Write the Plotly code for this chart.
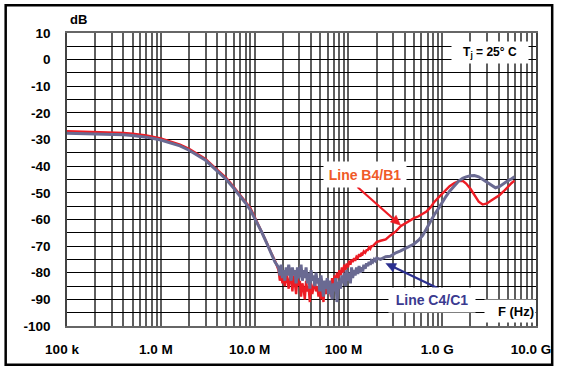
import math
import plotly.graph_objects as go

# ---------------- data ----------------
LOW_F_HZ = [1e5, 1.5e5, 2e5, 3e5, 4e5, 5e5, 7e5, 1e6,
            1.3e6, 1.6e6, 2e6, 2.5e6, 3e6, 3.5e6, 4e6, 5e6,
            6e6, 7e6, 8e6, 9e6, 10e6, 11e6, 12e6, 13.5e6,
            15e6, 16.5e6]
RED_LOW = [-26.9, -27.0, -27.1, -27.3, -27.5, -27.8, -28.5, -29.6,
           -30.8, -31.9, -33.5, -35.5, -37.3, -39.5, -41.3, -44.5,
           -47.8, -50.7, -53.3, -55.7, -59.0, -62.0, -64.5, -68.8,
           -72.5, -75.5]
GRAY_LOW = [-27.6, -27.7, -27.8, -28.0, -28.2, -28.5, -29.1, -30.2,
            -31.3, -32.4, -34.0, -36.0, -37.8, -40.0, -41.8, -45.0,
            -48.3, -51.2, -53.8, -56.4, -59.5, -62.5, -65.0, -69.0,
            -72.5, -76.0]

NOISE_F_MHZ = [18, 18.6, 19.2, 19.8, 20.4, 21, 21.7, 22.4, 23.1, 23.8,
               24.5, 25.3, 26.1, 26.9, 27.7, 28.6, 29.5, 30.4, 31.3, 32.3,
               33.3, 34.3, 35.4, 36.5, 37.6, 38.8, 40, 41.2, 42.5, 43.8,
               45.2, 46.6, 48, 49.5, 51, 52.6, 54.2, 55.9, 57.6, 59.4,
               61.2, 63.1, 65, 67, 69, 71.1, 73.3, 75.5, 77.8, 80.2,
               82.6, 85.1, 87.7, 90.4, 93.2, 96, 99, 102, 105, 108,
               111, 115, 118, 122, 126, 130, 134, 138, 142, 146,
               151, 156, 161, 166, 171, 176, 182, 188, 194, 200]
RED_NOISE = [-79, -83, -80, -84, -81, -85, -80, -83, -86, -81,
             -82, -87, -81, -84, -88, -82, -85, -83, -89, -84,
             -86, -90, -83, -87, -85, -91, -84, -88, -86, -83,
             -87, -85, -89, -84, -90, -86, -91, -85, -88, -83,
             -87, -84, -89, -82, -86, -81, -84, -80, -82, -79,
             -81, -78, -80, -77, -79, -76.5, -78, -75.5, -77, -75,
             -76, -74.5, -75.5, -74, -74.5, -73, -74, -72.5, -73, -72,
             -72.5, -71.5, -71.5, -70.5, -71, -70, -70, -69.5, -69, -68.5]
GRAY_NOISE = [-78, -81, -77, -82, -79, -83, -78, -81, -77, -80,
              -83, -78, -81, -79, -84, -78, -82, -80, -77, -83,
              -79, -82, -78, -84, -80, -86, -79, -83, -81, -85,
              -80, -84, -82, -87, -81, -85, -89, -83, -86, -82,
              -88, -83, -86, -90, -84, -87, -82, -91, -85, -83,
              -86, -81, -84, -80, -85, -79, -83, -80, -84, -78,
              -82, -79, -81, -78, -80.5, -77.5, -80, -78, -79.5, -77,
              -78.5, -76.5, -77.5, -76, -77, -75.5, -76, -75, -75.5, -74.5]

HIGH_F_HZ = [220e6, 250e6, 280e6, 320e6, 360e6, 400e6, 450e6, 500e6,
             560e6, 620e6, 680e6, 750e6, 820e6, 900e6, 1.0e9, 1.1e9,
             1.2e9, 1.35e9, 1.5e9, 1.65e9, 1.8e9, 2.0e9, 2.2e9, 2.45e9,
             2.7e9, 3.0e9, 3.3e9, 3.7e9, 4.1e9, 4.5e9, 5.0e9, 5.5e9,
             5.9e9]
RED_HIGH = [-68.0, -67.5, -66.0, -64.5, -62.5, -61.5, -60.5, -59.5,
            -58.8, -58.0, -57.0, -55.5, -53.5, -52.0, -50.3, -48.8,
            -47.5, -46.3, -45.6, -45.5, -46.5, -48.5, -51.0, -53.3,
            -54.4, -54.0, -53.0, -52.0, -50.8, -49.5, -47.6, -46.3,
            -45.4]
GRAY_HIGH = [-75.0, -74.0, -73.8, -72.5, -71.8, -71.0, -70.3, -69.2,
             -67.8, -66.0, -63.5, -60.5, -58.3, -56.2, -53.5, -51.3,
             -49.4, -47.2, -45.6, -44.6, -44.0, -43.6, -43.5, -44.0,
             -45.0, -46.0, -47.2, -48.1, -47.6, -46.5, -45.5, -44.7,
             -44.0]

X_TICK_VALS = [1e5, 1e6, 1e7, 1e8, 1e9, 1e10]
X_TICK_TEXT = ["100 k", "1.0 M", "10.0 M", "100 M", "1.0 G", "10.0 G"]
Y_TICK_VALS = [10, 0, -10, -20, -30, -40, -50, -60, -70, -80, -90, -100]
Y_TICK_TEXT = ["10", "0", "-10", "-20", "-30", "-40", "-50", "-60", "-70", "-80", "-90", "-100"]

SERIES_NAMES = ["Line B4/B1", "Line C4/C1"]

# ---------------- build ----------------
FONT = "Liberation Sans, Arial, Helvetica, sans-serif"
RED = "#ed1c24"
GRAY = "#6a6a92"
NAVY = "#2b2f8f"

red_x = LOW_F_HZ + [f * 1e6 for f in NOISE_F_MHZ] + HIGH_F_HZ
red_y = RED_LOW + RED_NOISE + RED_HIGH
gray_x = LOW_F_HZ + [f * 1e6 for f in NOISE_F_MHZ] + HIGH_F_HZ
gray_y = GRAY_LOW + GRAY_NOISE + GRAY_HIGH

# grid positions: every 1..9 x decade (labels only on decades), every 5 dB
x_grid_vals, x_grid_text = [], []
for i, d in enumerate(X_TICK_VALS):
    x_grid_vals.append(d)
    x_grid_text.append(X_TICK_TEXT[i])
    if i < len(X_TICK_VALS) - 1:
        for m in range(2, 10):
            x_grid_vals.append(m * d)
            x_grid_text.append("")
y_grid_vals, y_grid_text = [], []
for i, v in enumerate(Y_TICK_VALS):
    y_grid_vals.append(v)
    y_grid_text.append(Y_TICK_TEXT[i])
    if v > -100:
        y_grid_vals.append(v - 5)
        y_grid_text.append("")

fig = go.Figure()
fig.add_trace(go.Scatter(x=red_x, y=red_y, mode="lines", name=SERIES_NAMES[0],
                         line=dict(color=RED, width=2.4)))
fig.add_trace(go.Scatter(x=gray_x, y=gray_y, mode="lines", name=SERIES_NAMES[1],
                         line=dict(color=GRAY, width=3)))

L, R, T, B = 67, 18, 33, 41
W, H = 563, 369
PW, PH = W - L - R, H - T - B


def px(x):
    return (x - L) / PW


def py(y):
    return (H - B - y) / PH


tickfont = dict(family=FONT, size=13.5, color="black", weight="bold")

fig.update_layout(
    width=W, height=H,
    margin=dict(l=L, r=R, t=T, b=B, pad=0),
    paper_bgcolor="white", plot_bgcolor="white",
    showlegend=False,
    xaxis=dict(type="log", range=[5, 10], tickmode="array",
               tickvals=x_grid_vals, ticktext=x_grid_text,
               showgrid=True, gridcolor="#5e5e5e", gridwidth=1.5,
               ticks="", tickfont=tickfont, ticklabelshift=-5,
               ticklabelstandoff=10,
               showline=True, linecolor="#666666", linewidth=1.5, mirror=True,
               zeroline=False),
    yaxis=dict(range=[-100, 10], tickmode="array",
               tickvals=y_grid_vals, ticktext=y_grid_text,
               showgrid=True, gridcolor="#000000", gridwidth=1.2,
               ticks="", tickfont=tickfont, ticklabelstandoff=12,
               showline=True, linecolor="#444444", linewidth=1.5, mirror=True,
               zeroline=False),
)

ann = []
ann.append(dict(text="dB", xref="paper", yref="paper", x=px(68), y=py(19),
                xanchor="left", yanchor="middle", showarrow=False,
                font=dict(family=FONT, size=13, color="black", weight="bold")))
ann.append(dict(text="T<sub>j</sub> = 25° C", xref="paper", yref="paper",
                x=px(498.5), y=py(52.5), xanchor="center", yanchor="middle",
                showarrow=False, bgcolor="white", width=70, height=15, borderpad=3,
                font=dict(family=FONT, size=12, color="black", weight="bold")))
ann.append(dict(text=SERIES_NAMES[0], xref="paper", yref="paper",
                x=px(371), y=py(175.5), xanchor="center", yanchor="middle",
                showarrow=False, bgcolor="white", width=74, height=17, borderpad=4,
                font=dict(family=FONT, size=14, color="#f05a28", weight="bold")))
ann.append(dict(text=SERIES_NAMES[1], xref="paper", yref="paper",
                x=px(439), y=py(302), xanchor="center", yanchor="middle",
                showarrow=False, bgcolor="white", width=80, height=18, borderpad=3,
                font=dict(family=FONT, size=14, color="#3a3a90", weight="bold")))
ann.append(dict(text="F (Hz)", xref="paper", yref="paper",
                x=1.0, y=py(313), xanchor="right", yanchor="middle",
                showarrow=False, bgcolor="white", width=48, height=20, borderpad=1,
                align="right",
                font=dict(family=FONT, size=13, color="black", weight="bold")))
fig.update_layout(annotations=ann)


def add_arrow(x_tail, y_tail, x_head, y_head, color, head_len=10, head_half=4.5):
    dx, dy = x_head - x_tail, y_head - y_tail
    n = math.hypot(dx, dy)
    ux, uy = dx / n, dy / n
    bx, by = x_head - head_len * ux, y_head - head_len * uy
    fig.add_shape(type="line", xref="paper", yref="paper",
                  x0=px(x_tail), y0=py(y_tail), x1=px(bx + 2 * ux), y1=py(by + 2 * uy),
                  line=dict(color=color, width=2.2), layer="above")
    p1 = (bx - head_half * uy, by + head_half * ux)
    p2 = (bx + head_half * uy, by - head_half * ux)
    path = "M {} {} L {} {} L {} {} Z".format(px(x_head), py(y_head),
                                               px(p1[0]), py(p1[1]),
                                               px(p2[0]), py(p2[1]))
    fig.add_shape(type="path", xref="paper", yref="paper", path=path,
                  fillcolor=color, line=dict(color=color, width=0.5), layer="above")


add_arrow(363, 188, 407, 226.5, RED)
add_arrow(445, 290, 392, 265, NAVY)

# outer frame
fig.add_shape(type="rect", xref="paper", yref="paper",
              x0=px(4.5), x1=px(561.5), y0=py(367), y1=py(5),
              line=dict(color="black", width=2.5), fillcolor="rgba(0,0,0,0)",
              layer="above")

fig.write_html("out.html", config={"displayModeBar": False},
               post_script="document.body.style.margin='0';")
